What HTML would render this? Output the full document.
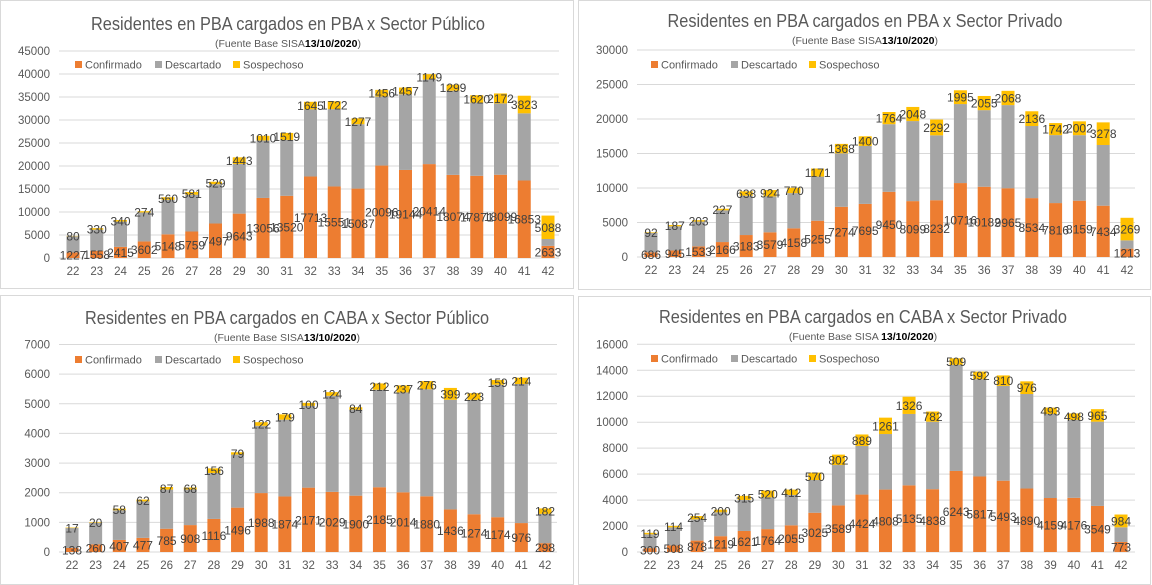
<!DOCTYPE html>
<html><head><meta charset="utf-8"><style>
html,body{margin:0;padding:0;background:#fff;}
svg{display:block;font-family:"Liberation Sans",Arial,sans-serif;}
</style></head><body>
<svg id="root" width="1152" height="585" viewBox="0 0 1152 585" xmlns="http://www.w3.org/2000/svg"></svg>
<script>
const weeks = ["22","23","24","25","26","27","28","29","30","31","32","33","34","35","36","37","38","39","40","41","42"];

const conf1 = [1227,1558,2415,3602,5148,5759,7497,9643,13056,13520,17713,15551,15087,20096,19144,20414,18074,17871,18099,16853,2633];
const desc1 = [3500,4600,5500,6300,7500,8000,8550,10800,12500,12150,14600,16800,14000,15000,16450,18400,18300,15900,15500,14600,1500];
const sosp1 = [80,330,340,274,560,581,529,1443,1010,1519,1645,1722,1277,1456,1457,1149,1299,1620,2172,3823,5088];
const ticks1 = [0,5000,10000,15000,20000,25000,30000,35000,40000,45000];

const conf2 = [686,945,1533,2166,3183,3579,4158,5255,7274,7695,9450,8099,8232,10716,10182,9965,8534,7816,8159,7434,1213];
const desc2 = [2800,3500,3600,4600,5700,5200,5100,6400,7750,8400,9800,11600,9400,11450,11100,12050,10450,9850,9500,8800,1200];
const sosp2 = [92,187,203,227,638,924,770,1171,1368,1400,1764,2048,2292,1995,2055,2068,2136,1742,2002,3278,3269];
const ticks2 = [0,5000,10000,15000,20000,25000,30000];

const conf3 = [138,260,407,477,785,908,1116,1496,1988,1874,2171,2029,1900,2185,2014,1880,1436,1274,1174,976,298];
const desc3 = [670,720,1000,1230,1320,1200,1550,1790,2270,2590,2760,3240,2900,3290,3370,3610,3700,3860,4470,4690,990];
const sosp3 = [17,20,58,62,87,68,156,79,122,179,100,124,84,212,237,276,399,223,159,214,182];
const ticks3 = [0,1000,2000,3000,4000,5000,6000,7000];

const conf4 = [300,508,878,1219,1621,1764,2055,3025,3589,4424,4808,5135,4838,6243,5817,5493,4890,4159,4176,3549,773];
const desc4 = [1060,1390,1640,1840,2390,2450,2340,2520,3110,3740,4280,5500,5200,8170,7490,7300,7280,6470,6000,6490,1130];
const sosp4 = [119,114,254,200,315,520,412,570,802,889,1261,1326,782,509,592,810,976,493,498,965,984];
const ticks4 = [0,2000,4000,6000,8000,10000,12000,14000,16000];

const NS="http://www.w3.org/2000/svg";
const root=document.getElementById('root');
function mk(tag,attrs,parent,text){const e=document.createElementNS(NS,tag);for(const k in attrs)e.setAttribute(k,attrs[k]);if(text!==undefined)e.textContent=text;(parent||root).appendChild(e);return e;}

const panels=[
 {name:'chart-pba-publico',box:[0.5,0.5,573,288],title:'Residentes en  PBA cargados en PBA x Sector Público',tw:394,tx:288,ty:30,sy:47,sub:'(Fuente  Base SISA',date:'13/10/2020',close:')',gap:false,
  x0:73,x1:548,y0:258,yTop:51,ticks:ticks1,max:45000,gl:59,gr:559,legY:65,legX:75,conf:conf1,desc:desc1,sosp:sosp1},
 {name:'chart-pba-privado',box:[578.5,0.5,572,289],title:'Residentes en  PBA cargados en PBA x Sector Privado',tw:395,tx:865,ty:27,sy:44,sub:'(Fuente  Base SISA',date:'13/10/2020',close:')',gap:false,
  x0:651,x1:1127,y0:257,yTop:50,ticks:ticks2,max:30000,gl:637,gr:1135,legY:65,legX:651,conf:conf2,desc:desc2,sosp:sosp2},
 {name:'chart-caba-publico',box:[0.5,295.5,573,289],title:'Residentes en  PBA cargados en CABA x Sector Público',tw:404,tx:287,ty:324,sy:341,sub:'(Fuente  Base SISA',date:'13/10/2020',close:')',gap:false,
  x0:72,x1:545,y0:552,yTop:344.5,ticks:ticks3,max:7000,gl:59,gr:557,legY:360,legX:75,conf:conf3,desc:desc3,sosp:sosp3},
 {name:'chart-caba-privado',box:[578.5,296.5,572,288],title:'Residentes en  PBA cargados en CABA x Sector Privado',tw:408,tx:863,ty:323,sy:340,sub:'(Fuente  Base SISA',date:'13/10/2020',close:')',gap:true,
  x0:650,x1:1121,y0:552,yTop:344.3,ticks:ticks4,max:16000,gl:637,gr:1135,legY:359,legX:651,conf:conf4,desc:desc4,sosp:sosp4}
];
const C_CONF='#ed7d31',C_DESC='#a5a5a5',C_SOSP='#ffc000';

panels.forEach(p=>{
  const g=mk('g',{});
  
  
  const bx=mk('rect',{x:p.box[0],y:p.box[1],width:p.box[2],height:p.box[3],fill:'#fff',stroke:'#d9d9d9','stroke-width':1},g);
  
  
  const t=mk('text',{x:p.tx,y:p.ty,'text-anchor':'middle','font-size':18,fill:'#595959',textLength:p.tw,lengthAdjust:'spacingAndGlyphs'},g,p.title);
  
  
  const st=mk('text',{x:p.tx,y:p.sy,'text-anchor':'middle','font-size':10.5,fill:'#595959'},g);
  
  
  mk('tspan',{},st,p.sub+(p.gap?'     ':''));
  mk('tspan',{'font-weight':'bold',fill:'#000'},st,p.date);
  mk('tspan',{},st,p.close);
  const yS=v=>p.y0-(v/p.max)*(p.y0-p.yTop);
  const step=(p.x1-p.x0)/(weeks.length-1);
  const xS=i=>p.x0+i*step;
  const bw=13;
  p.ticks.forEach(tv=>{
    const y=yS(tv);
    const gl=mk('line',{x1:p.gl,x2:p.gr,y1:y,y2:y,stroke:'#d9d9d9','stroke-width':1},g);
    
    
    const tl=mk('text',{x:p.gl-9,y:y+4,'text-anchor':'end','font-size':11.5,fill:'#595959'},g,String(tv));
    
    
  });
  weeks.forEach((w,i)=>{
    const x=xS(i);
    const c=p.conf[i],d=p.desc[i],s=p.sosp[i];
    const r1=mk('rect',{x:x-bw/2,y:yS(c),width:bw,height:p.y0-yS(c),fill:C_CONF},g);
    
    
    const r2=mk('rect',{x:x-bw/2,y:yS(c+d),width:bw,height:yS(c)-yS(c+d),fill:C_DESC},g);
    
    
    const r3=mk('rect',{x:x-bw/2,y:yS(c+d+s),width:bw,height:yS(c+d)-yS(c+d+s),fill:C_SOSP},g);
    
    
    const l1=mk('text',{x:x,y:yS(c/2)+4.5,'text-anchor':'middle','font-size':12,fill:'#404040'},g,String(c));
    
    
    const l3=mk('text',{x:x,y:yS(c+d+s/2)+4.5,'text-anchor':'middle','font-size':12,fill:'#404040'},g,String(s));
    
    
    const xl=mk('text',{x:x,y:p.y0+17,'text-anchor':'middle','font-size':11.5,fill:'#595959'},g,w);
    
    
  });
  const leg=[['Confirmado',C_CONF,0],['Descartado',C_DESC,80],['Sospechoso',C_SOSP,158]];
  leg.forEach(L=>{
    const lg=mk('g',{},g);
    
    
    mk('rect',{x:p.legX+L[2],y:p.legY-4,width:7,height:7,fill:L[1]},lg);
    mk('text',{x:p.legX+L[2]+10,y:p.legY+3.5,'font-size':11,fill:'#595959'},lg,L[0]);
  });
});
</script>
</body></html>
